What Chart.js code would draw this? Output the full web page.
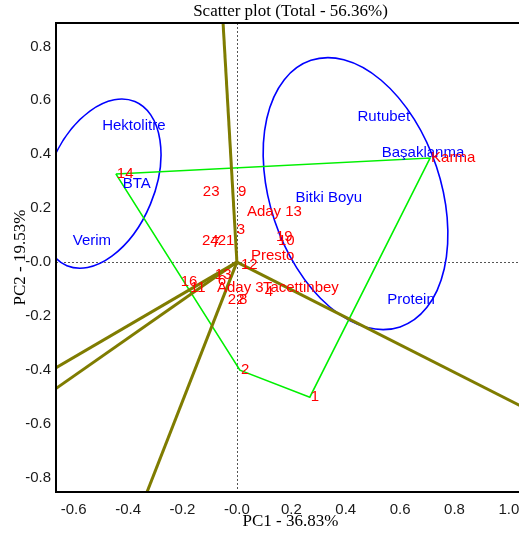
<!DOCTYPE html>
<html>
<head>
<meta charset="utf-8">
<script src="https://cdn.jsdelivr.net/npm/chart.js@4.4.0/dist/chart.umd.min.js"></script>
<style>
  html, body { margin: 0; padding: 0; background: #fff; overflow: hidden; }
  #wrap { width: 519px; height: 537px; overflow: hidden; }
</style>
</head>
<body>
<div id="wrap"><canvas id="biplot" width="530" height="537"></canvas></div>
<script>
// genotypes (red labels)
const genotypes = ["14", "Karma", "1", "2", "23", "9", "Aday 13", "3", "24", "7", "21", "19", "10",
  "Presto", "12", "13", "6", "16", "11", "Aday 3", "4", "Tacettinbey", "22", "8"];
const genoX = [-0.445, 0.71, 0.268, 0.011, -0.129, 0.0, 0.033, -0.004, -0.132, -0.096, -0.074, 0.14, 0.147,
  0.048, 0.011, -0.085, -0.074, -0.21, -0.176, -0.077, 0.099, 0.092, -0.037, 0.004];
const genoY = [0.327, 0.386, -0.501, -0.401, 0.26, 0.26, 0.186, 0.119, 0.078, 0.07, 0.078, 0.093, 0.078,
  0.022, -0.011, -0.048, -0.07, -0.074, -0.096, -0.096, -0.111, -0.096, -0.141, -0.141];

// convex hull (polygon of the vertex genotypes)
const hullOrder = ["14", "Karma", "1", "2"];

// traits (blue labels)
const traits = ["Hektolitre", "BTA", "Verim", "Rutubet", "Başaklanma", "Bitki Boyu", "Protein"];
const traitX = [-0.379, -0.368, -0.533, 0.54, 0.684, 0.338, 0.64];
const traitY = [0.505, 0.289, 0.078, 0.538, 0.404, 0.237, -0.141];

// sector rays from the origin
const rayX = [-0.056, 1.2, -0.73, -0.73, -0.364];
const rayY = [0.976, -0.614, -0.43, -0.515, -0.94];

// trait ellipses (centre, semi-axes, angle in degrees)
const ellipseCX = [-0.5, 0.436];
const ellipseCY = [0.291, 0.254];
const ellipseA = [0.328, 0.519];
const ellipseB = [0.198, 0.315];
const ellipseAngle = [67.5, 108.5];

const xTicks = [-0.6, -0.4, -0.2, 0, 0.2, 0.4, 0.6, 0.8, 1.0];
const yTicks = [-0.8, -0.6, -0.4, -0.2, 0, 0.2, 0.4, 0.6, 0.8];

const sans = "'Liberation Sans', Arial, sans-serif";
const serif = "'Liberation Serif', 'Times New Roman', serif";

const fmt = v => Math.abs(v) < 1e-9 ? "-0.0" : v.toFixed(1);

const hullPts = hullOrder.map(n => {
  const i = genotypes.indexOf(n);
  return { x: genoX[i], y: genoY[i] };
});
hullPts.push(hullPts[0]);

const rayDatasets = rayX.map((x, i) => ({
  type: "line",
  data: [{ x: 0, y: 0 }, { x: x, y: rayY[i] }],
  borderColor: "#7f7c00",
  borderWidth: 3,
  pointRadius: 0,
  order: 2
}));

const biplotDecor = {
  id: "biplotDecor",
  beforeDatasetsDraw(chart) {
    const { ctx, chartArea: a, scales: { x, y } } = chart;
    ctx.save();
    // dotted zero lines
    ctx.strokeStyle = "#555";
    ctx.lineWidth = 1;
    ctx.setLineDash([2, 2]);
    const x0 = Math.round(x.getPixelForValue(0)) + 0.5;
    const y0 = Math.round(y.getPixelForValue(0)) + 0.5;
    ctx.beginPath();
    ctx.moveTo(x0, a.top); ctx.lineTo(x0, a.bottom);
    ctx.moveTo(a.left, y0); ctx.lineTo(a.right, y0);
    ctx.stroke();
    ctx.setLineDash([]);
    // ellipses
    ctx.beginPath();
    ctx.rect(a.left, a.top, a.right - a.left, a.bottom - a.top);
    ctx.clip();
    const pxUnit = ((x.getPixelForValue(1) - x.getPixelForValue(0)) + (y.getPixelForValue(0) - y.getPixelForValue(1))) / 2;
    ctx.strokeStyle = "#0000ff";
    ctx.lineWidth = 1.6;
    ellipseCX.forEach((cx, i) => {
      ctx.beginPath();
      ctx.ellipse(x.getPixelForValue(cx), y.getPixelForValue(ellipseCY[i]),
        ellipseA[i] * pxUnit, ellipseB[i] * pxUnit, -ellipseAngle[i] * Math.PI / 180, 0, Math.PI * 2);
      ctx.stroke();
    });
    ctx.restore();
  },
  afterDatasetsDraw(chart) {
    const { ctx, chartArea: a, scales: { x, y } } = chart;
    ctx.save();
    ctx.font = "15px " + sans;
    ctx.textBaseline = "middle";
    ctx.fillStyle = "#0000ff";
    ctx.textAlign = "center";
    traits.forEach((t, i) => ctx.fillText(t, x.getPixelForValue(traitX[i]), y.getPixelForValue(traitY[i])));
    ctx.fillStyle = "#ff0000";
    ctx.textAlign = "left";
    genotypes.forEach((g, i) => ctx.fillText(g, x.getPixelForValue(genoX[i]) + 1, y.getPixelForValue(genoY[i])));
    // frame
    ctx.strokeStyle = "#000";
    ctx.lineWidth = 2;
    ctx.strokeRect(a.left, a.top, a.right - a.left, a.bottom - a.top);
    ctx.restore();
  }
};

new Chart(document.getElementById("biplot"), {
  type: "scatter",
  data: {
    datasets: [
      {
        label: "Genotypes",
        data: genoX.map((x, i) => ({ x: x, y: genoY[i] })),
        pointRadius: 0,
        order: 0
      },
      {
        label: "Traits",
        data: traitX.map((x, i) => ({ x: x, y: traitY[i] })),
        pointRadius: 0,
        order: 0
      },
      ...rayDatasets,
      {
        type: "line",
        label: "Hull",
        data: hullPts,
        borderColor: "#00f000",
        borderWidth: 1.6,
        pointRadius: 0,
        order: 3
      }
    ]
  },
  options: {
    responsive: false,
    devicePixelRatio: 1,
    animation: false,
    layout: { padding: { left: 0, right: 5, top: 0, bottom: 0 } },
    plugins: {
      legend: { display: false },
      tooltip: { enabled: false },
      title: {
        display: true,
        text: "Scatter plot (Total - 56.36%)",
        fullSize: false,
        color: "#000",
        font: { family: serif, size: 17, weight: "normal" },
        padding: { top: 1, bottom: 1.6 }
      }
    },
    scales: {
      x: {
        type: "linear",
        min: -0.665,
        max: 1.059,
        grid: { display: false, drawTicks: false },
        border: { display: false },
        afterBuildTicks: s => { s.ticks = xTicks.map(v => ({ value: v })); },
        afterFit: s => { s.height = 45; },
        ticks: { callback: fmt, color: "#1a1a1a", font: { family: sans, size: 15 }, padding: 9, maxRotation: 0, autoSkip: false },
        title: { display: true, text: "PC1 - 36.83%", color: "#000", font: { family: serif, size: 17 }, padding: { top: 0, bottom: 4.8 } }
      },
      y: {
        type: "linear",
        min: -0.853,
        max: 0.887,
        grid: { display: false, drawTicks: false },
        border: { display: false },
        afterBuildTicks: s => { s.ticks = yTicks.map(v => ({ value: v })); },
        afterFit: s => { s.width = 56; },
        ticks: { callback: fmt, color: "#1a1a1a", font: { family: sans, size: 15 }, padding: 5, autoSkip: false },
        title: { display: true, text: "PC2 - 19.53%", color: "#000", font: { family: serif, size: 17 }, padding: { top: 10.8, bottom: 0 } }
      }
    }
  },
  plugins: [biplotDecor]
});
</script>
</body>
</html>
